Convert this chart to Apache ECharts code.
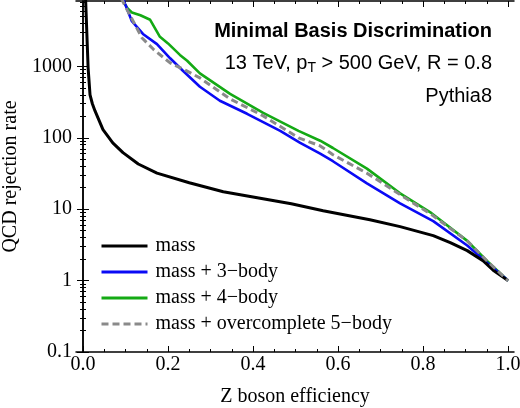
<!DOCTYPE html>
<html lang="en">
<head>
  <meta charset="UTF-8">
  <title>Minimal Basis Discrimination</title>
  <style>
    html, body { margin: 0; padding: 0; background: #fff; }
    #main { width: 520px; height: 408px; }
  </style>
</head>
<body>
  <div id="main"></div>
</body>
<script src="https://cdn.jsdelivr.net/npm/echarts@6/dist/echarts.min.js"></script>
<script>
  // efficiency (x) vs QCD rejection (y)
  const massData = [
    [0.006, 9000], [0.012, 950], [0.0165, 400], [0.022, 300], [0.028, 240], [0.047, 130],
    [0.07, 85], [0.094, 62], [0.13, 43], [0.174, 32], [0.25, 23.5], [0.33, 17.6],
    [0.41, 14.5], [0.49, 11.9], [0.565, 9.5], [0.675, 7.1], [0.746, 5.7], [0.824, 4.26],
    [0.864, 3.4], [0.904, 2.63], [0.941, 1.9], [0.965, 1.4], [1.0, 1.0]
  ];
  const body3Data = [
    [0.094, 9000], [0.099, 7500], [0.115, 4300], [0.141, 2850], [0.174, 2050], [0.205, 1300],
    [0.235, 870], [0.275, 520], [0.322, 330], [0.386, 217], [0.464, 125], [0.511, 85],
    [0.558, 60], [0.588, 47], [0.668, 23], [0.746, 12.1], [0.824, 6.8], [0.904, 3.1],
    [0.95, 1.8], [1.0, 1.0]
  ];
  const body4Data = [
    [0.09, 9000], [0.105, 6500], [0.115, 5700], [0.135, 5200], [0.158, 4500], [0.181, 2600],
    [0.2, 2100], [0.228, 1450], [0.245, 1200], [0.275, 800], [0.346, 412], [0.424, 224],
    [0.507, 125], [0.558, 91], [0.588, 72], [0.668, 37], [0.746, 16.7], [0.82, 8.8],
    [0.904, 3.6], [0.95, 1.9], [1.0, 1.0]
  ];
  const body5Data = [
    [0.09, 9000], [0.105, 6000], [0.118, 4300], [0.139, 2500], [0.165, 1750], [0.205, 1120],
    [0.245, 860], [0.275, 690], [0.346, 351], [0.424, 203], [0.507, 100], [0.558, 77],
    [0.588, 58], [0.668, 32], [0.746, 16], [0.82, 8.4], [0.904, 3.6], [0.95, 1.9], [1.0, 1.0]
  ];
  const seriesNames = ['mass', 'mass + 3\u2212body', 'mass + 4\u2212body', 'mass + overcomplete 5\u2212body'];

  const xMajor = [0, 0.2, 0.4, 0.6, 0.8, 1.0];
  const xMinor = [0.05, 0.1, 0.15, 0.25, 0.3, 0.35, 0.45, 0.5, 0.55, 0.65, 0.7, 0.75, 0.85, 0.9, 0.95];
  const yMajor = [0.1, 1, 10, 100, 1000];
  const yMinor = [0.2, 0.3, 0.4, 0.5, 0.6, 0.7, 0.8, 0.9, 2, 3, 4, 5, 6, 7, 8, 9,
    20, 30, 40, 50, 60, 70, 80, 90, 200, 300, 400, 500, 600, 700, 800, 900,
    2000, 3000, 4000, 5000, 6000, 7000, 8000];

  const serif = 'Liberation Serif';
  const sans = 'Liberation Sans';
  const X_MIN = -0.0165, X_MAX = 1.014;
  const Y_MIN = 0.1, Y_MAX = 8245;

  const myChart = echarts.init(document.getElementById('main'));

  function xAx(pos, ticks, len, labels, line) {
    return {
      type: 'value', position: pos, min: X_MIN, max: X_MAX,
      axisLine: { show: line, lineStyle: { color: '#000', width: 1.5 } },
      axisTick: { show: true, inside: true, length: len, customValues: ticks, lineStyle: { color: '#000', width: 1 } },
      axisLabel: labels ? {
        customValues: ticks, margin: 3, color: '#000',
        fontFamily: serif, fontSize: 20,
        formatter: function (v) { return v.toFixed(1); }
      } : { show: false },
      splitLine: { show: false }
    };
  }

  function yAx(pos, ticks, len, labels, line) {
    return {
      type: 'log', position: pos, min: Y_MIN, max: Y_MAX, logBase: 10,
      axisLine: { show: line, lineStyle: { color: '#000', width: 1.5 } },
      axisTick: { show: true, inside: true, length: len, customValues: ticks, lineStyle: { color: '#000', width: 1 } },
      axisLabel: labels ? {
        customValues: ticks, margin: 4, color: '#000',
        fontFamily: serif, fontSize: 20,
        formatter: function (v) { return v < 1 ? v.toFixed(1) : String(Math.round(v)); }
      } : { show: false },
      splitLine: { show: false },
      minorTick: { show: false }
    };
  }

  const xMain = xAx('bottom', xMajor, 6, true, true);
  xMain.name = 'Z boson efficiency';
  xMain.nameLocation = 'middle';
  xMain.nameGap = 35;
  xMain.nameTextStyle = { fontFamily: serif, fontSize: 20, color: '#000' };

  const yMain = yAx('left', yMajor, 6, true, true);
  yMain.name = 'QCD rejection rate';
  yMain.nameLocation = 'middle';
  yMain.nameGap = 55;
  yMain.nameTextStyle = { fontFamily: serif, fontSize: 20, color: '#000' };

  const lineBase = { type: 'line', symbol: 'none', showSymbol: false, smooth: false, clip: true, xAxisIndex: 0, yAxisIndex: 0 };

  myChart.setOption({
    animation: false,
    grid: { left: 76, right: 6, top: 1, bottom: 56, outerBoundsMode: 'none', containLabel: false },
    xAxis: [
      xMain,
      xAx('bottom', xMinor, 3, false, false),
      xAx('top', xMajor, 6, false, true),
      xAx('top', xMinor, 3, false, false)
    ],
    yAxis: [
      yMain,
      yAx('left', yMinor, 3, false, false),
      yAx('right', yMajor, 6, false, true),
      yAx('right', yMinor, 3, false, false)
    ],
    legend: {
      orient: 'vertical', left: 95, top: 231,
      itemWidth: 46, itemHeight: 14, itemGap: 6,
      data: seriesNames,
      itemStyle: { opacity: 0 },
      lineStyle: { width: 3 },
      textStyle: { fontFamily: serif, fontSize: 20, color: '#000', padding: [0, 0, 0, 3] }
    },
    graphic: [
      {
        type: 'text', right: 28, top: 21,
        style: { text: 'Minimal Basis Discrimination', font: 'bold 20px "Liberation Sans"', fill: '#000' }
      },
      {
        type: 'text', right: 28, top: 53,
        style: {
          text: '{n|13 TeV, p}{s|T}{n| > 500 GeV, R = 0.8}', fill: '#000',
          rich: {
            n: { fontFamily: sans, fontSize: 20, lineHeight: 25 },
            s: { fontFamily: sans, fontSize: 14, lineHeight: 15, verticalAlign: 'bottom' }
          }
        }
      },
      {
        type: 'text', right: 28, top: 86,
        style: { text: 'Pythia8', font: '20px "Liberation Sans"', fill: '#000' }
      }
    ],
    series: [
      Object.assign({}, lineBase, { name: seriesNames[0], data: massData, z: 4,
        lineStyle: { color: '#000', width: 3 }, itemStyle: { color: '#000' } }),
      Object.assign({}, lineBase, { name: seriesNames[1], data: body3Data, z: 3,
        lineStyle: { color: '#0a0af5', width: 2.6 }, itemStyle: { color: '#0a0af5' } }),
      Object.assign({}, lineBase, { name: seriesNames[2], data: body4Data, z: 2,
        lineStyle: { color: '#14aa14', width: 2.6 }, itemStyle: { color: '#14aa14' } }),
      Object.assign({}, lineBase, { name: seriesNames[3], data: body5Data, z: 5,
        lineStyle: { color: '#8a8a8a', width: 3, type: [7, 4] }, itemStyle: { color: '#8a8a8a' } })
    ]
  });
</script>
</html>
